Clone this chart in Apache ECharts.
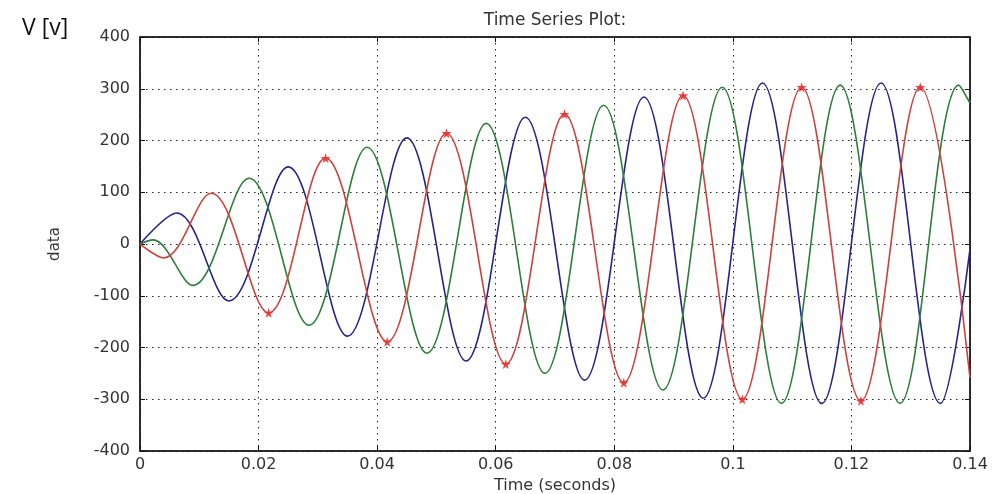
<!DOCTYPE html>
<html>
<head>
<meta charset="utf-8">
<script src="https://cdn.jsdelivr.net/npm/echarts@6/dist/echarts.min.js"></script>
<style>
  html, body { margin: 0; padding: 0; background: #fff; }
  #main { width: 995px; height: 494px; }
</style>
</head>
<body>
<div id="main"></div>
<script>
// peaks / troughs: [time (s), volts]
var blueSeries = [
    [0, 0], [0.0062, 60], [0.015, -110], [0.025, 149], [0.035, -178],
    [0.045, 205], [0.055, -226], [0.065, 245], [0.075, -263], [0.085, 284],
    [0.095, -298], [0.105, 311], [0.115, -308], [0.125, 311], [0.135, -308],
    [0.14, -10]
];
var greenSeries = [
    [0, 0], [0.0022, 8], [0.0089, -80], [0.0184, 127], [0.0285, -157],
    [0.0383, 187], [0.0484, -211], [0.0584, 233], [0.0683, -250], [0.0782, 268],
    [0.0882, -282], [0.0982, 303], [0.1082, -308], [0.1181, 307], [0.1282, -308],
    [0.1381, 307], [0.14, 272]
];
var redSeries = [
    [0, 0], [0.004, -27], [0.012, 98], [0.0217, -133], [0.0313, 166],
    [0.0417, -189], [0.0517, 214], [0.0617, -232], [0.0716, 251], [0.0816, -268],
    [0.0916, 287], [0.1016, -300], [0.1116, 303], [0.1216, -303], [0.1316, 303],
    [0.14, -259]
];
var xTicks = [0, 0.02, 0.04, 0.06, 0.08, 0.1, 0.12, 0.14];
var yTicks = [-400, -300, -200, -100, 0, 100, 200, 300, 400];

// red stars sit on the red extrema
var redStars = redSeries.filter(function (p) { return Math.abs(p[1]) > 120 && p[0] < 0.139; });

var myChart = echarts.init(document.getElementById('main'));
var plotFont = 'DejaVu Sans, Liberation Sans, sans-serif';
var star = 'path://M50,0 L61,35 L98,35 L68,57 L79,91 L50,70 L21,91 L32,57 L2,35 L39,35 Z';

option = {
    animation: false,
    backgroundColor: '#fff',
    title: [
        {
            text: 'Time Series Plot:',
            left: 550, top: 7, textAlign: 'center',
            textStyle: { color: '#333', fontSize: 17, fontWeight: 'normal', fontFamily: plotFont }
        },
        {
            text: 'V [v]',
            left: 17, top: 12,
            textStyle: { color: '#111', fontSize: 23, fontWeight: 'normal', fontFamily: 'Open Sans, sans-serif' }
        }
    ],
    grid: {
        left: 140, right: 25, top: 37, bottom: 43, outerBoundsMode: 'none',
        show: true, borderColor: '#111', borderWidth: 1
    },
    xAxis: [
        {
            type: 'value', min: 0, max: 0.14, interval: 0.02,
            name: 'Time (seconds)', nameLocation: 'middle', nameGap: 27,
            nameTextStyle: { color: '#333', fontSize: 16, fontFamily: plotFont },
            axisLine: { show: true, onZero: false, lineStyle: { color: '#111', width: 1.5 } },
            axisTick: { show: true, inside: true, length: 5, lineStyle: { color: '#111' } },
            axisLabel: {
                margin: 6,
                formatter: function (v) { return xTicks.indexOf(+v.toFixed(2)) >= 0 ? String(+v.toFixed(2)) : ''; },
                color: '#333', fontSize: 16, fontFamily: plotFont
            },
            splitLine: { show: true, lineStyle: { color: '#222', type: [1.5, 4.5], width: 1 } }
        },
        {
            type: 'value', min: 0, max: 0.14, interval: 0.02, position: 'top',
            axisLine: { show: true, onZero: false, lineStyle: { color: '#111', width: 1.5 } },
            axisTick: { show: true, inside: true, length: 5, lineStyle: { color: '#111' } },
            axisLabel: { show: false },
            splitLine: { show: false }
        }
    ],
    yAxis: [
        {
            type: 'value', min: -400, max: 400, interval: 100,
            name: 'data', nameLocation: 'middle', nameGap: 77, nameRotate: 90,
            nameTextStyle: { color: '#333', fontSize: 15, fontFamily: plotFont },
            axisLine: { show: true, onZero: false, lineStyle: { color: '#111', width: 1.5 } },
            axisTick: { show: true, inside: true, length: 5, lineStyle: { color: '#111' } },
            axisLabel: {
                margin: 10,
                formatter: function (v) { return yTicks.indexOf(v) >= 0 ? String(v) : ''; },
                color: '#333', fontSize: 16, fontFamily: plotFont
            },
            splitLine: { show: true, lineStyle: { color: '#222', type: [1.5, 4.5], width: 1 } }
        },
        {
            type: 'value', min: -400, max: 400, interval: 100, position: 'right',
            axisLine: { show: true, onZero: false, lineStyle: { color: '#111', width: 1.5 } },
            axisTick: { show: true, inside: true, length: 5, lineStyle: { color: '#111' } },
            axisLabel: { show: false },
            splitLine: { show: false }
        }
    ],
    series: [
        {
            name: 'blue', type: 'line', data: blueSeries, smooth: 0.36,
            showSymbol: false, lineStyle: { color: '#24248c', width: 1.6 }
        },
        {
            name: 'green', type: 'line', data: greenSeries, smooth: 0.36,
            showSymbol: false, lineStyle: { color: '#2c7f38', width: 1.6 }
        },
        {
            name: 'red', type: 'line', data: redSeries, smooth: 0.36,
            showSymbol: false, lineStyle: { color: '#d0403c', width: 1.6 }
        },
        {
            name: 'red marks', type: 'scatter', data: redStars,
            symbol: star, symbolSize: 10, itemStyle: { color: '#f01010' }
        }
    ]
};

myChart.setOption(option);
</script>
</body>
</html>
